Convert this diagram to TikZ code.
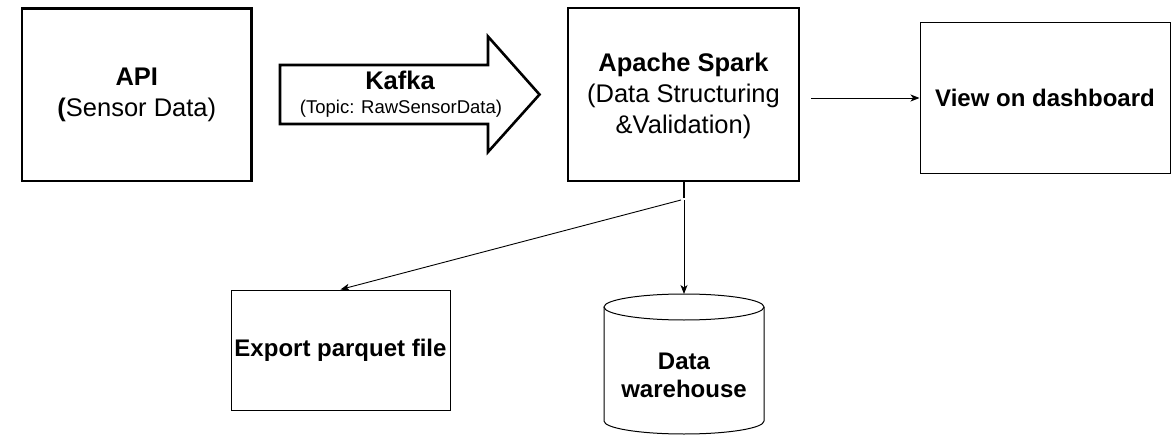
\documentclass[tikz,border=0pt]{standalone}
\usepackage{fontspec}
\setmainfont{Liberation Sans}
\usetikzlibrary{arrows.meta}
\begin{document}
\begin{tikzpicture}[x=1pt,y=-1pt,
  thickbox/.style={draw, line width=2.6pt, inner sep=0pt, align=center, font=\fontsize{25.5}{31}\selectfont},
  thinbox/.style={draw, line width=1pt, inner sep=0pt, align=center, font=\fontsize{24}{28}\selectfont\bfseries},
  conn/.style={line width=0.9pt, -{Stealth[length=9pt,width=7pt,inset=2.5pt]}},
]
\useasboundingbox (0,0) rectangle (1171,436);
% boxes
\node[thickbox, minimum width=229.7pt, minimum height=172.7pt] (api) at (136.8,94.7)
  {\textbf{API}\\\textbf{(}Sensor Data)};
\node[thickbox, minimum width=231pt, minimum height=173pt] (spark) at (683.5,94.5) {};
\node[align=center, inner sep=0pt, font=\fontsize{25.5}{31}\selectfont] (sparktext) at (683.5,96)
  {\textbf{Apache Spark}\\(Data Structuring\\\&Validation)};
\node[thinbox, minimum width=250pt, minimum height=150pt] (view) at (1045,98) {View on dashboard};
\node[thinbox, minimum width=219pt, minimum height=120pt] (export) at (340.5,350) {Export parquet file};
% kafka arrow
\draw[line width=2.6pt, line join=miter] (280,65) -- (488,65) -- (488,36.5) -- (539.5,94.5) -- (488,152) -- (488,124) -- (280,124) -- cycle;
\node[font=\fontsize{25.5}{31}\selectfont\bfseries] (kafka) at (400,80) {Kafka};
\node[font=\fontsize{18.5}{22}\selectfont] (topic) at (401,108.5) {(Topic: RawSensorData)};
% cylinder
\draw[line width=1pt] (604,307) -- (604,421) arc[start angle=180, end angle=0, x radius=80, y radius=13] -- (764,307);
\draw[line width=1pt] (684,307) ellipse[x radius=80, y radius=13];
\coordinate (dwtop) at (684,294);
\node[align=center, font=\fontsize{24}{28}\selectfont\bfseries] (dw) at (684,375) {Data\\warehouse};
% connectors
\coordinate (tick) at (684,197.5);
\draw[line width=2.6pt] (spark.south -| tick) -- (tick);
\coordinate (j) at (684,200);
\draw[conn] ([xshift=-3pt]j) -- (export.north);
\draw[conn] (j) -- (dwtop);
\draw[conn] ([xshift=11pt]spark.east |- view.west) -- (view.west);
\end{tikzpicture}
\end{document}
